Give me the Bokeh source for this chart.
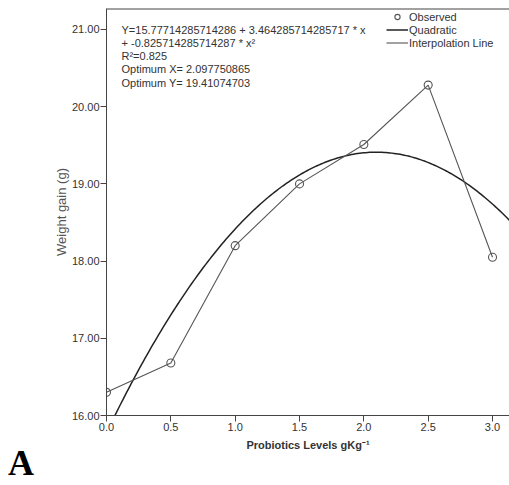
import numpy as np
from bokeh.plotting import figure
from bokeh.layouts import column
from bokeh.models import (Range1d, FixedTicker, NumeralTickFormatter, Legend, LegendItem,
                          Label, Span, ColumnDataSource, Div)
from bokeh.embed import file_html
from bokeh.resources import INLINE

# Observed data
levels = [0.0, 0.5, 1.0, 1.5, 2.0, 2.5, 3.0]
weight_gain = [16.30, 16.68, 18.20, 19.00, 19.51, 20.28, 18.05]

# Quadratic model coefficients (from the displayed equation)
b0 = 15.77714285714286
b1 = 3.464285714285717
b2 = -0.825714285714287

eq_lines = [
    "Y=15.77714285714286 + 3.464285714285717 * x",
    "+ -0.825714285714287 * x\u00b2",
    "R\u00b2=0.825",
    "Optimum X= 2.097750865",
    "Optimum Y= 19.41074703",
]

x_ticks = [0.0, 0.5, 1.0, 1.5, 2.0, 2.5, 3.0]
y_ticks = [16, 17, 18, 19, 20, 21]

FONT = "Liberation Sans"
Y_END = 21.272

p = figure(width=509, height=458, output_backend="svg", toolbar_location=None,
           x_range=Range1d(0, 3.132), y_range=Range1d(16, Y_END),
           min_border_left=106, min_border_right=0, min_border_top=8, min_border_bottom=43)
p.outline_line_color = None
p.grid.visible = False
p.background_fill_color = "white"
p.border_fill_color = "white"

# Axes
for ax in (p.xaxis[0], p.yaxis[0]):
    ax.axis_line_color = "#444444"
    ax.major_tick_line_color = "#444444"
    ax.major_tick_out = 6
    ax.major_tick_in = 0
    ax.minor_tick_line_color = None
    ax.major_label_text_font = FONT
    ax.major_label_text_font_size = "11px"
    ax.major_label_text_color = "#333333"
    ax.major_label_standoff = 1

p.xaxis.ticker = FixedTicker(ticks=x_ticks)
p.xaxis.formatter = NumeralTickFormatter(format="0.0")
p.yaxis.ticker = FixedTicker(ticks=y_ticks)
p.yaxis.formatter = NumeralTickFormatter(format="0.00")

p.xaxis.axis_label = "Probiotics Levels gKg\u207b\u00b9"
p.xaxis.axis_label_text_font = FONT
p.xaxis.axis_label_text_font_size = "11px"
p.xaxis.axis_label_text_font_style = "bold"
p.xaxis.axis_label_text_color = "#333333"
p.xaxis.axis_label_standoff = 5

p.yaxis.axis_label = "Weight gain (g)"
p.yaxis.axis_label_text_font = FONT
p.yaxis.axis_label_text_font_size = "13px"
p.yaxis.axis_label_text_font_style = "normal"
p.yaxis.axis_label_text_color = "#555555"
p.yaxis.axis_label_standoff = 0

# Top frame line
p.add_layout(Span(location=Y_END, dimension="width", line_color="#444444", line_width=2))

# Quadratic curve from the equation
xq = np.linspace(0, 3.132, 200)
yq = b0 + b1 * xq + b2 * xq ** 2
quad = p.line(xq, yq, line_color="#222222", line_width=1.5)

# Interpolation line and observed points
src = ColumnDataSource(dict(x=levels, y=weight_gain))
interp = p.line("x", "y", source=src, line_color="#555555", line_width=1.1)
obs = p.scatter("x", "y", source=src, marker="circle", size=8, fill_color=None,
                line_color="#555555", line_width=1.1)

legend = Legend(items=[LegendItem(label="Observed", renderers=[obs]),
                       LegendItem(label="Quadratic", renderers=[quad]),
                       LegendItem(label="Interpolation Line", renderers=[interp])],
                location=(280, 366), orientation="vertical")
legend.label_text_font = FONT
legend.label_text_font_size = "11px"
legend.label_text_color = "#333333"
legend.glyph_width = 22
legend.glyph_height = 13
legend.label_height = 13
legend.label_standoff = 1
legend.spacing = 0
legend.padding = 0
legend.margin = 0
legend.border_line_color = None
legend.background_fill_color = None
p.add_layout(legend)

# Equation text block (screen coords relative to frame bottom-left)
for i, t in enumerate(eq_lines):
    p.add_layout(Label(x=15, y=407 - 21 - i * 13.3, x_units="screen", y_units="screen",
                       text=t, text_font=FONT, text_font_size="11px", text_color="#333333",
                       text_baseline="middle", text_align="left"))

# Panel letter below the chart
letter = Div(text="A", width=60, height=40, margin=(-15, 0, 0, 8),
             styles={"font-family": "'Liberation Serif', 'Times New Roman', serif",
                     "font-size": "36px", "font-weight": "bold", "line-height": "40px",
                     "color": "black"})

layout = column(p, letter, spacing=0)
open("out.html", "w").write(file_html(layout, INLINE))
